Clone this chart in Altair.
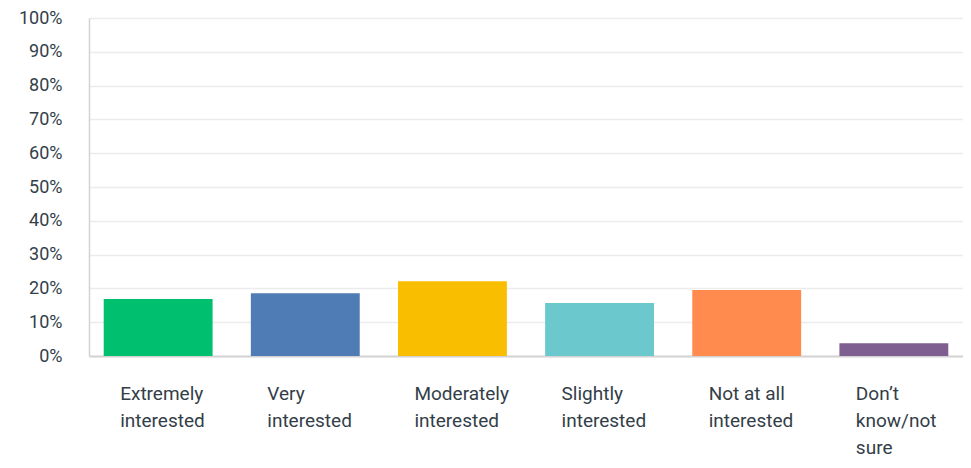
import altair as alt
import pandas as pd

categories = [
    "Extremely\ninterested",
    "Very\ninterested",
    "Moderately\ninterested",
    "Slightly\ninterested",
    "Not at all\ninterested",
    "Don’t\nknow/not\nsure",
]
values = [16.9, 18.6, 22.1, 15.7, 19.5, 3.8]
colors = ["#00BF6F", "#507CB6", "#F9BE00", "#6BC8CD", "#FF8B4F", "#7F5F90"]
y_ticks = [0, 10, 20, 30, 40, 50, 60, 70, 80, 90, 100]

df = pd.DataFrame({"cat": categories, "val": values})

font = "Roboto"
text_color = "#333e48"

chart = (
    alt.Chart(df)
    .mark_bar()
    .encode(
        x=alt.X(
            "cat:N",
            sort=categories,
            scale=alt.Scale(paddingInner=0.26, paddingOuter=0.10),
            axis=alt.Axis(
                title=None,
                labelAngle=0,
                labelAlign="left",
                labelBaseline="top",
                labelOffset=-38,
                labelPadding=28,
                labelFontSize=19,
                labelLineHeight=27,
                labelFont=font,
                labelColor=text_color,
                labelExpr="split(datum.value, '\\n')",
                ticks=False,
                domain=True,
                domainColor="#d3d3d3",
                domainWidth=2,
                grid=False,
            ),
        ),
        y=alt.Y(
            "val:Q",
            scale=alt.Scale(domain=[0, 100], nice=False),
            axis=alt.Axis(
                title=None,
                values=y_ticks,
                labelExpr="datum.value + '%'",
                labelFontSize=18,
                labelFont=font,
                labelColor=text_color,
                labelPadding=27,
                ticks=False,
                domain=True,
                domainColor="#d3d3d3",
                domainWidth=1.5,
                grid=True,
                gridColor="#ececec",
                gridWidth=1.5,
            ),
        ),
        color=alt.Color(
            "cat:N",
            sort=categories,
            scale=alt.Scale(domain=categories, range=colors),
            legend=None,
        ),
    )
    .properties(
        width=874,
        height=338,
        autosize=alt.AutoSizeParams(type="none"),
        padding={"left": 81, "top": 10, "right": 0, "bottom": 102},
    )
    .configure_view(stroke=None)
)

chart.save("out.html", embed_options={"renderer": "svg", "actions": False})
